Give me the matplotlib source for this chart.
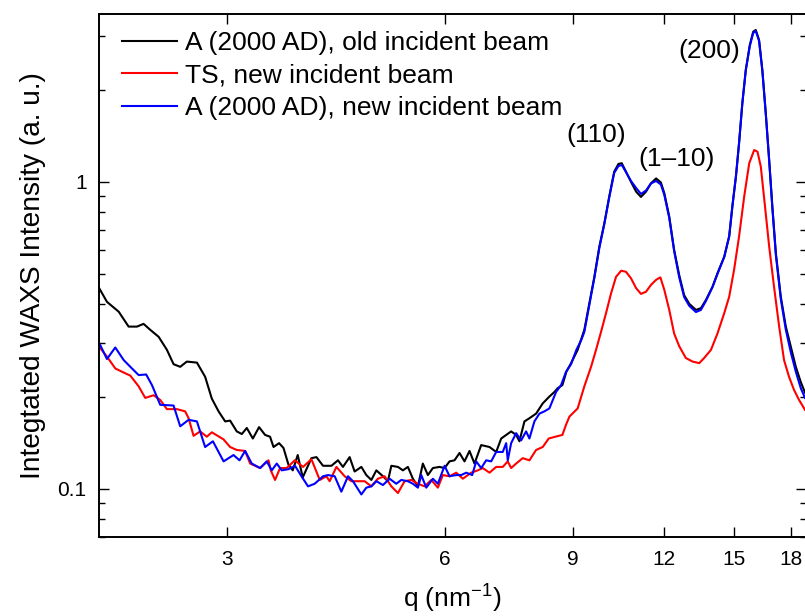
import numpy as np
import matplotlib
matplotlib.use('Agg')
import matplotlib.pyplot as plt
from matplotlib.ticker import FixedLocator, NullLocator, FixedFormatter, LogLocator, NullFormatter

plt.rcParams['font.family'] = ['Liberation Sans', 'DejaVu Sans']
plt.rcParams['mathtext.default'] = 'regular'

# --- data (q in nm^-1, intensity in a.u.) ---
q_old = [2.000, 2.051, 2.129, 2.197, 2.256, 2.304, 2.353, 2.417, 2.481, 2.534,
         2.588, 2.643, 2.729, 2.801, 2.861, 2.923, 2.985, 3.032, 3.097, 3.147,
         3.197, 3.259, 3.324, 3.388, 3.442, 3.480, 3.542, 3.592, 3.649, 3.699,
         3.758, 3.818, 3.925, 3.988, 4.072, 4.182, 4.270, 4.338, 4.431, 4.502,
         4.599, 4.672, 4.747, 4.823, 4.925, 5.003, 5.058, 5.165, 5.247, 5.331,
         5.416, 5.503, 5.590, 5.680, 5.771, 5.894, 5.989, 6.084, 6.181, 6.280,
         6.380, 6.482, 6.586, 6.727, 6.907, 7.055, 7.168, 7.282, 7.398, 7.516,
         7.595, 7.717, 7.840, 8.008, 8.178, 8.353, 8.487, 8.576, 8.705, 8.816,
         8.948, 9.137, 9.333, 9.483, 9.634, 9.788, 9.944, 10.10, 10.26, 10.40,
         10.51, 10.65, 10.82, 11.00, 11.17, 11.35, 11.53, 11.72, 11.90, 12.03,
         12.22, 12.41, 12.61, 12.81, 13.02, 13.30, 13.51, 13.73, 14.02, 14.24,
         14.55, 14.78, 14.93, 15.10, 15.25, 15.41, 15.58, 15.78, 15.95, 16.08,
         16.25, 16.42, 16.60, 16.78, 16.95, 17.14, 17.41, 17.69, 17.97, 18.26,
         18.55, 18.80]
I_old = [0.452, 0.407, 0.378, 0.338, 0.338, 0.345, 0.330, 0.313, 0.284, 0.255,
         0.250, 0.260, 0.258, 0.232, 0.197, 0.179, 0.166, 0.167, 0.154, 0.151,
         0.158, 0.146, 0.159, 0.150, 0.148, 0.137, 0.141, 0.136, 0.120, 0.115,
         0.129, 0.109, 0.126, 0.127, 0.119, 0.119, 0.124, 0.118, 0.127, 0.114,
         0.118, 0.111, 0.107, 0.115, 0.110, 0.106, 0.119, 0.118, 0.115, 0.118,
         0.108, 0.102, 0.121, 0.111, 0.117, 0.118, 0.117, 0.123, 0.124, 0.131,
         0.123, 0.133, 0.121, 0.139, 0.137, 0.132, 0.146, 0.150, 0.154, 0.150,
         0.143, 0.166, 0.170, 0.176, 0.190, 0.200, 0.207, 0.213, 0.218, 0.241,
         0.257, 0.284, 0.330, 0.403, 0.491, 0.616, 0.733, 0.896, 1.080, 1.145,
         1.151, 1.080, 1.002, 0.930, 0.894, 0.930, 0.990, 1.027, 0.996, 0.919,
         0.771, 0.601, 0.498, 0.428, 0.401, 0.383, 0.388, 0.413, 0.456, 0.504,
         0.571, 0.664, 0.831, 1.041, 1.337, 1.805, 2.317, 2.795, 3.087, 3.127,
         2.901, 2.317, 1.674, 1.180, 0.831, 0.586, 0.423, 0.338, 0.291, 0.250,
         0.223, 0.206]

q_ts = [2.000, 2.051, 2.106, 2.151, 2.209, 2.268, 2.316, 2.379, 2.429, 2.481,
        2.561, 2.629, 2.658, 2.700, 2.757, 2.816, 2.861, 2.970, 3.032, 3.097,
        3.180, 3.231, 3.335, 3.425, 3.450, 3.497, 3.553, 3.629, 3.723, 3.822,
        3.925, 4.030, 4.116, 4.159, 4.249, 4.362, 4.455, 4.550, 4.647, 4.747,
        4.847, 4.951, 5.058, 5.165, 5.275, 5.389, 5.503, 5.621, 5.741, 5.863,
        5.956, 6.084, 6.215, 6.346, 6.517, 6.655, 6.761, 6.907, 7.055, 7.204,
        7.319, 7.398, 7.516, 7.675, 7.840, 8.008, 8.178, 8.335, 8.513, 8.705,
        8.807, 8.900, 9.137, 9.333, 9.534, 9.686, 9.841, 9.998, 10.16, 10.32,
        10.49, 10.65, 10.82, 11.00, 11.17, 11.35, 11.53, 11.72, 11.88, 12.03,
        12.22, 12.41, 12.61, 12.88, 13.16, 13.44, 13.65, 13.95, 14.24, 14.55,
        14.78, 15.01, 15.25, 15.50, 15.75, 16.00, 16.17, 16.34, 16.56, 16.78,
        17.04, 17.32, 17.59, 17.87, 18.16, 18.45, 18.80]
I_ts = [0.291, 0.270, 0.247, 0.241, 0.234, 0.216, 0.198, 0.202, 0.195, 0.182,
        0.182, 0.179, 0.170, 0.149, 0.154, 0.148, 0.153, 0.145, 0.137, 0.134,
        0.133, 0.121, 0.117, 0.124, 0.115, 0.107, 0.117, 0.117, 0.124, 0.118,
        0.125, 0.107, 0.110, 0.106, 0.118, 0.110, 0.106, 0.106, 0.106, 0.102,
        0.108, 0.110, 0.102, 0.097, 0.106, 0.107, 0.104, 0.102, 0.107, 0.101,
        0.111, 0.110, 0.113, 0.108, 0.113, 0.115, 0.117, 0.113, 0.118, 0.118,
        0.123, 0.117, 0.121, 0.126, 0.124, 0.134, 0.137, 0.146, 0.148, 0.150,
        0.162, 0.172, 0.183, 0.216, 0.250, 0.284, 0.325, 0.374, 0.434, 0.491,
        0.514, 0.510, 0.486, 0.451, 0.432, 0.439, 0.462, 0.480, 0.489, 0.445,
        0.383, 0.321, 0.292, 0.267, 0.260, 0.257, 0.267, 0.284, 0.321, 0.374,
        0.423, 0.517, 0.664, 0.896, 1.151, 1.271, 1.255, 1.122, 0.831, 0.616,
        0.456, 0.338, 0.263, 0.232, 0.210, 0.195, 0.181]

q_new = [2.000, 2.051, 2.106, 2.163, 2.209, 2.268, 2.323, 2.366, 2.429, 2.534,
         2.588, 2.658, 2.729, 2.801, 2.871, 2.970, 3.065, 3.124, 3.180, 3.248,
         3.335, 3.406, 3.461, 3.516, 3.572, 3.649, 3.726, 3.803, 3.883, 3.966,
         4.072, 4.137, 4.226, 4.316, 4.408, 4.478, 4.599, 4.672, 4.747, 4.823,
         4.925, 5.030, 5.138, 5.220, 5.331, 5.416, 5.503, 5.562, 5.651, 5.771,
         5.863, 5.989, 6.084, 6.215, 6.314, 6.415, 6.538, 6.621, 6.727, 6.835,
         6.944, 7.055, 7.204, 7.282, 7.319, 7.398, 7.516, 7.637, 7.758, 7.840,
         7.965, 8.093, 8.222, 8.353, 8.532, 8.669, 8.807, 8.948, 9.100, 9.245,
         9.333, 9.483, 9.634, 9.788, 9.944, 10.10, 10.26, 10.40, 10.51, 10.65,
         10.82, 11.00, 11.17, 11.35, 11.53, 11.72, 11.90, 12.03, 12.22, 12.41,
         12.61, 12.81, 13.02, 13.30, 13.51, 13.73, 14.02, 14.24, 14.55, 14.78,
         14.93, 15.10, 15.25, 15.41, 15.58, 15.78, 15.95, 16.08, 16.25, 16.42,
         16.60, 16.78, 16.95, 17.14, 17.41, 17.69, 17.97, 18.26, 18.55, 18.80]
I_new = [0.300, 0.265, 0.289, 0.263, 0.250, 0.235, 0.236, 0.218, 0.188, 0.187,
         0.160, 0.168, 0.166, 0.137, 0.143, 0.123, 0.129, 0.124, 0.133, 0.121,
         0.117, 0.123, 0.115, 0.121, 0.115, 0.116, 0.119, 0.110, 0.102, 0.104,
         0.110, 0.111, 0.110, 0.098, 0.110, 0.106, 0.096, 0.101, 0.102, 0.106,
         0.103, 0.108, 0.104, 0.107, 0.106, 0.104, 0.101, 0.111, 0.101, 0.108,
         0.104, 0.119, 0.110, 0.111, 0.111, 0.113, 0.111, 0.123, 0.117, 0.124,
         0.123, 0.132, 0.132, 0.141, 0.124, 0.141, 0.152, 0.144, 0.154, 0.146,
         0.166, 0.176, 0.179, 0.183, 0.207, 0.218, 0.241, 0.255, 0.284, 0.306,
         0.325, 0.398, 0.487, 0.610, 0.730, 0.890, 1.070, 1.127, 1.136, 1.078,
         1.008, 0.956, 0.914, 0.938, 0.989, 1.008, 0.981, 0.907, 0.763, 0.596,
         0.490, 0.422, 0.395, 0.377, 0.383, 0.410, 0.455, 0.502, 0.570, 0.667,
         0.836, 1.046, 1.339, 1.808, 2.317, 2.773, 3.058, 3.104, 2.880, 2.299,
         1.665, 1.171, 0.823, 0.578, 0.416, 0.330, 0.279, 0.241, 0.213, 0.198]

labels = ['A (2000 AD), old incident beam', 'TS, new incident beam',
          'A (2000 AD), new incident beam']
colors = ['black', '#ff0000', '#0000ff']
xticks = [3, 6, 9, 12, 15, 18]
peaks = ['(110)', '(1\u201310)', '(200)']
peak_pos = [(9.69, 1.42), (12.51, 1.19), (13.87, 2.67)]

#%% figure
fig = plt.figure(figsize=(8.05, 6.16), dpi=100)
ax = fig.add_axes([99/805, 1-537.3/616, 707/805, (537.3-14)/616])

for q, I, c, lab in zip([q_old, q_ts, q_new], [I_old, I_ts, I_new], colors, labels):
    ax.plot(q, I, color=c, lw=1.5, label=lab)

ax.set_xscale('log')
ax.set_yscale('log')
ax.set_xlim(2.0, 18.86)
ax.set_ylim(0.0696, 3.525)

ax.xaxis.set_major_locator(FixedLocator(xticks))
ax.xaxis.set_major_formatter(FixedFormatter([str(t) for t in xticks]))
ax.xaxis.set_minor_locator(NullLocator())
ax.yaxis.set_major_locator(FixedLocator([0.1, 1]))
ax.yaxis.set_major_formatter(FixedFormatter(['0.1', '1']))
ax.yaxis.set_minor_locator(LogLocator(base=10, subs=np.arange(2, 10)))
ax.yaxis.set_minor_formatter(NullFormatter())

ax.tick_params(which='both', direction='in', top=True, right=True, width=1.0,
               labelsize=15, pad=9)
ax.tick_params(which='major', length=7.5)
ax.tick_params(which='minor', length=4.2)
for s in ax.spines.values():
    s.set_linewidth(1.4)

ax.set_xlabel('q (nm$^{-1}$)', fontsize=19, labelpad=10)
ax.set_ylabel('Integtated WAXS Intensity (a. u.)', fontsize=20.2, labelpad=8)

for txt, (x, y) in zip(peaks, peak_pos):
    ax.text(x, y, txt, fontsize=19, ha='center', va='center')

ax.legend(loc='upper left', bbox_to_anchor=(23/707, 1-17/523.3), frameon=False,
          fontsize=19, handlelength=2.1, handletextpad=0.3,
          labelspacing=0.32, borderpad=0, borderaxespad=0)

fig.savefig('out.png', dpi=100)
